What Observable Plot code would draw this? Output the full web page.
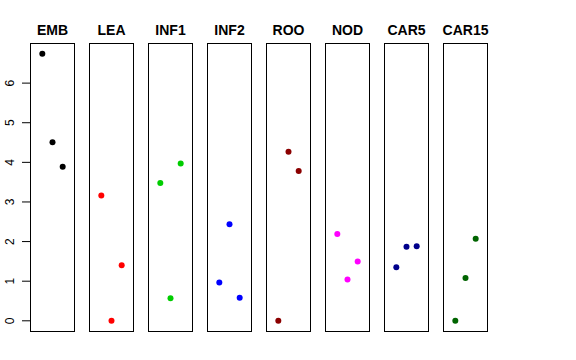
<!DOCTYPE html>
<html><head><meta charset="utf-8">
<script src="https://cdn.jsdelivr.net/npm/d3@7"></script>
<script src="https://cdn.jsdelivr.net/npm/@observablehq/plot@0.6"></script>
<style>body{margin:0;background:#fff}</style>
</head><body><div id="chart"></div>
<script>
const categories = ["EMB","LEA","INF1","INF2","ROO","NOD","CAR5","CAR15"];
const colors = ["#000000","#FF0000","#00CD00","#0000FF","#8B0000","#FF00FF","#00008B","#006400"];
const rep1 = [6.74, 3.16, 3.48, 0.97, 0.00, 2.19, 1.35, 0.00];
const rep2 = [4.51, 0.00, 0.57, 2.44, 4.27, 1.04, 1.87, 1.08];
const rep3 = [3.89, 1.40, 3.97, 0.58, 3.78, 1.50, 1.88, 2.07];
const reps = [1, 2, 3];
const yTicks = [0, 1, 2, 3, 4, 5, 6];

const rows = categories.flatMap((c, i) =>
  [rep1, rep2, rep3].map((arr, j) => ({cat: c, rep: reps[j], value: arr[i]})));

const chart = Plot.plot({
  width: 576, height: 360,
  marginLeft: 29, marginRight: 88, marginTop: 43, marginBottom: 29,
  style: {fontFamily: "'Liberation Sans', Arial, sans-serif", fontSize: "12px", background: "white", color: "black"},
  fx: {domain: categories, paddingInner: 0.25, paddingOuter: 0, axis: null},
  x: {domain: [-0.16, 4.16], axis: null},
  y: {domain: [-0.27, 7.0]},
  color: {domain: categories, range: colors},
  marks: [
    Plot.frame({stroke: "black"}),
    Plot.axisY({ticks: yTicks, anchor: "left", tickSize: 8, tickPadding: 9, tickRotate: -90, label: null}),
    Plot.dot(rows, {fx: "cat", x: "rep", y: "value", fill: "cat", r: 3}),
    Plot.text(categories, {fx: d => d, text: d => d, frameAnchor: "top", dy: -9, lineAnchor: "bottom", fontWeight: "bold", fontSize: 14})
  ]
});
document.getElementById("chart").appendChild(chart);
</script>
</body></html>
